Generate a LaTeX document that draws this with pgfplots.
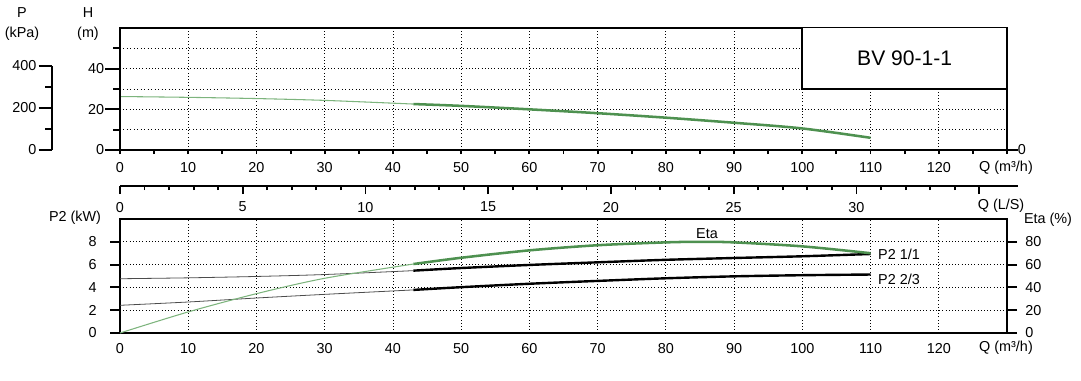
\documentclass[border=0pt]{standalone}
\usepackage{fontspec}
\setmainfont{Liberation Sans}
\usepackage{pgfplots}
\pgfplotsset{compat=1.18}
\definecolor{gD}{RGB}{78,145,80}
\definecolor{gL}{RGB}{125,180,125}
\newcommand{\fs}{\fontsize{10.8}{13}\selectfont}
\begin{document}
\fs
\begin{tikzpicture}
\useasboundingbox (0,0) rectangle (810.75pt,285pt);
\pgfplotsset{
  base/.style={scale only axis, anchor=south west,
    /pgf/number format/assume math mode=true,
    tick label style={font=\fs, inner sep=0pt},
    axis line style={line width=1.4pt},
    every tick/.style={black, line width=1.4pt},
    tick align=outside,
    grid style={dotted, black, line width=0.6pt},
    minor grid style={dotted, black, line width=0.6pt}},
}
% ---------- top axis (H): frame, x ticks, grid, curve ----------
\begin{axis}[base, at={(90pt,172.5pt)}, width=665.25pt, height=91.5pt,
  xmin=0, xmax=130, ymin=0, ymax=60,
  xtick={0,10,...,130}, xticklabels={0,10,20,30,40,50,60,70,80,90,100,110,120,{}},
  minor xtick={5,15,...,125},
  ytick={0,20,40}, minor ytick={10,30,50}, yticklabels={},
  xtick pos=bottom, ytick pos=left,
  major tick length=3pt, minor tick length=3pt,
  xticklabel style={yshift=-6pt},
  xmajorgrids, ymajorgrids, yminorgrids]
\addplot[gL, line width=0.8pt, smooth] coordinates {(0,26.3)(10,25.9)(20,25.3)(30,24.4)(43,22.6)};
\addplot[gD, line width=1.9pt, smooth] coordinates {(43,22.6)(50,21.7)(60,20.0)(70,18.1)(80,15.9)(90,13.4)(100,10.6)(110,6.0)};
\draw[line width=1.4pt, fill=white] (axis cs:100,30) rectangle (axis cs:130,60.6);
\node[font=\fontsize{15.8}{18}\selectfont] at (axis cs:115,45.3) {BV 90-1-1};
\end{axis}
% left H ticks
\begin{axis}[base, at={(90pt,172.5pt)}, width=665.25pt, height=91.5pt,
  xmin=0, xmax=130, ymin=0, ymax=60, hide x axis, axis y line*=left,
  axis line style={-}, ytick={0,20,40}, minor ytick={10,30,50},
  major tick length=11pt, minor tick length=5pt,
  yticklabel style={xshift=-0.75pt}]
\end{axis}
% right 0 tick
\begin{axis}[base, at={(90pt,172.5pt)}, width=665.25pt, height=91.5pt,
  xmin=0, xmax=130, ymin=0, ymax=60, hide x axis, axis y line*=right,
  axis line style={-}, ytick={0}, major tick length=8pt]
\end{axis}
% ---------- P axis ----------
\begin{axis}[base, at={(39pt,172.5pt)}, width=1pt, height=63.2pt,
  xmin=0, xmax=1, ymin=0, ymax=400, hide x axis, axis y line*=left,
  axis line style={-}, ytick={0,200,400}, minor ytick={100,300},
  major tick length=10pt, minor tick length=5pt,
  yticklabel style={xshift=-1.5pt}]
\end{axis}
% ---------- middle axis (L/s) ----------
\begin{axis}[base, at={(90pt,145.5pt)}, width=673.5pt, height=5pt,
  xmin=0, xmax=36.58, ymin=0, ymax=1, axis x line*=bottom, hide y axis,
  axis line style={-},
  xtick={0,5,...,35}, xticklabels={0,5,10,15,20,25,30,{}},
  minor x tick num=4, major tick length=6pt, minor tick length=3pt,
  xticklabel style={yshift=-5.8pt}]
\end{axis}
% ---------- bottom axis (P2) ----------
\begin{axis}[base, at={(90pt,35.25pt)}, width=665.25pt, height=85.5pt,
  xmin=0, xmax=130, ymin=0, ymax=10,
  xtick={0,10,...,130}, xticklabels={0,10,20,30,40,50,60,70,80,90,100,110,120,{}},
  xtick style={draw=none},
  ytick={0,2,4,6,8}, ytick pos=left, xtick pos=bottom,
  major tick length=7.5pt,
  yticklabel style={xshift=-9.75pt},
  xmajorgrids, ymajorgrids]
\addplot[black!70, line width=0.6pt, smooth] coordinates {(0,4.76)(10,4.84)(20,4.96)(30,5.13)(43,5.47)};
\addplot[black, line width=1.8pt, smooth] coordinates {(43,5.47)(50,5.70)(60,5.97)(70,6.20)(80,6.42)(90,6.58)(100,6.73)(110,6.93)};
\addplot[black!70, line width=0.6pt, smooth] coordinates {(0,2.43)(10,2.72)(20,3.07)(30,3.39)(43,3.78)};
\addplot[black, line width=1.8pt, smooth] coordinates {(43,3.78)(50,4.02)(60,4.32)(70,4.57)(80,4.80)(90,4.97)(100,5.07)(110,5.13)};
\end{axis}
% ---------- right axis (Eta) ----------
\begin{axis}[base, at={(90pt,35.25pt)}, width=665.25pt, height=85.5pt,
  xmin=0, xmax=130, ymin=0, ymax=100, hide x axis, axis y line*=right,
  axis line style={-}, ytick={0,20,...,80}, major tick length=7.5pt,
  yticklabel style={xshift=6pt}]
\addplot[gL, line width=0.8pt, smooth] coordinates {(0,0)(10,18.5)(20,34.5)(30,48)(43,60.5)};
\addplot[gD, line width=1.9pt, smooth] coordinates {(43,60.5)(50,66)(60,72.5)(70,77)(80,79.5)(85,80)(90,79.5)(100,76)(110,70)};
\end{axis}
% ---------- text labels ----------
\node[align=center, font=\fs, inner sep=0pt] at ({22*0.75pt},{(380-24)*0.75pt}) {P\\[2pt](kPa)};
\node[align=center, font=\fs, inner sep=0pt] at ({88*0.75pt},{(380-24)*0.75pt}) {H\\[2pt](m)};
\node[font=\fs, inner sep=0pt] at ({1006*0.75pt},{(380-168)*0.75pt}) {Q (m³/h)};
\node[font=\fs, inner sep=0pt] at ({1001*0.75pt},{(380-205.7)*0.75pt}) {Q (L/S)};
\node[font=\fs, inner sep=0pt] at ({1006*0.75pt},{(380-348)*0.75pt}) {Q (m³/h)};
\node[font=\fs, inner sep=0pt] at ({1048*0.75pt},{(380-220)*0.75pt}) {Eta (\%)};
\node[font=\fs, inner sep=0pt] at ({75*0.75pt},{(380-218)*0.75pt}) {P2 (kW)};
\node[font=\fs, inner sep=0pt] at ({707*0.75pt},{(380-234)*0.75pt}) {Eta};
\node[font=\fs, inner sep=0pt] at ({899*0.75pt},{(380-254.3)*0.75pt}) {P2 1/1};
\node[font=\fs, inner sep=0pt] at ({899*0.75pt},{(380-279)*0.75pt}) {P2 2/3};
\end{tikzpicture}
\end{document}
